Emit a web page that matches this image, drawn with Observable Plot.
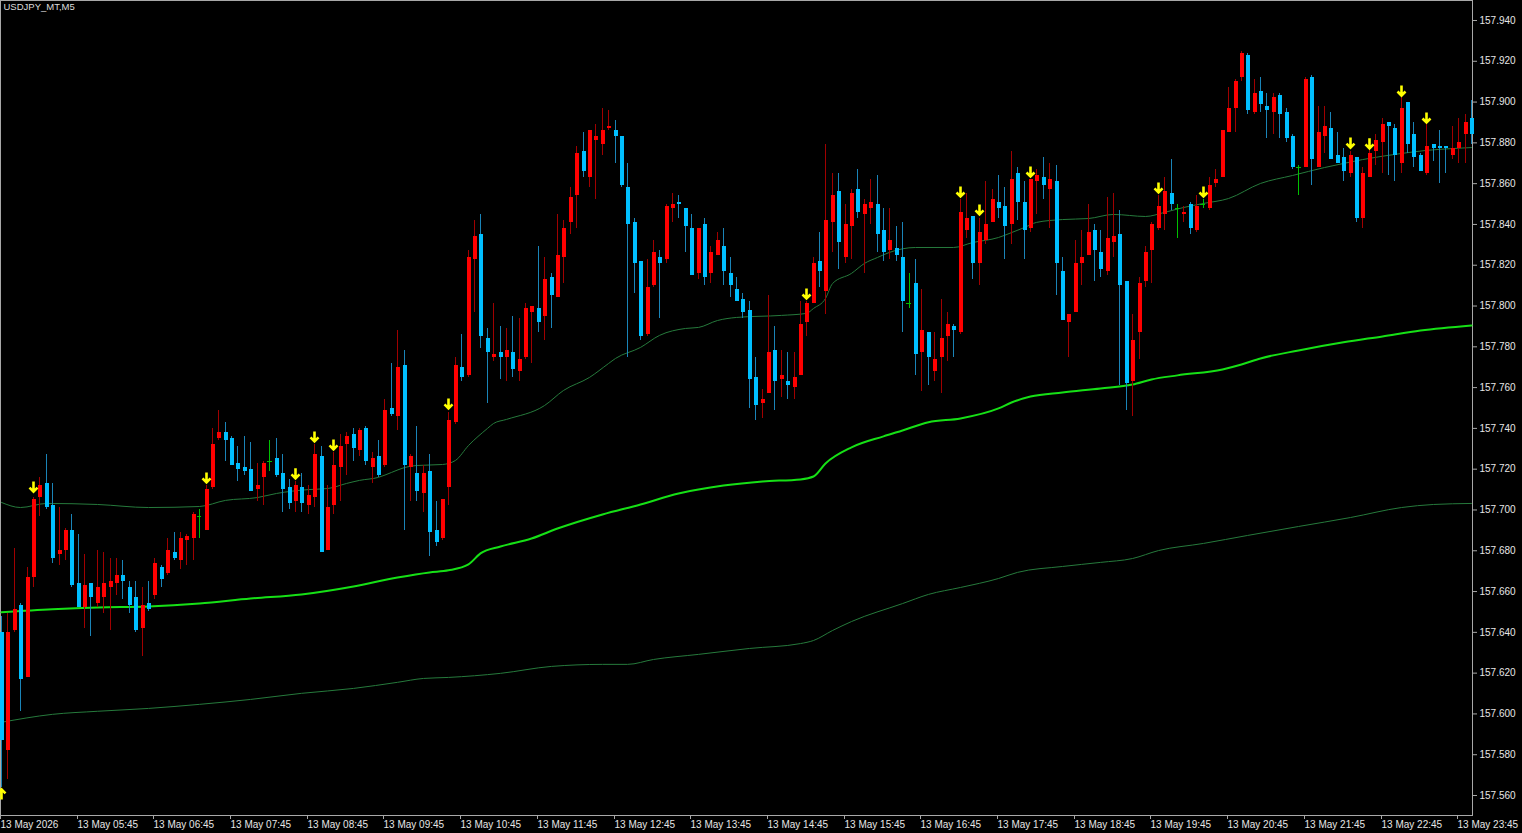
<!DOCTYPE html>
<html><head><meta charset="utf-8">
<script src="https://cdn.jsdelivr.net/npm/d3@7"></script>
<script src="https://cdn.jsdelivr.net/npm/@observablehq/plot@0.6"></script>
<style>html,body{margin:0;padding:0;background:#000;overflow:hidden}</style>
</head><body><div id="chart"></div>
<script>
const symbolTitle = "USDJPY_MT,M5";

const open = [
157.640,157.582,157.641,157.653,157.618,157.667,157.706,157.713,157.702,157.678,
157.680,157.690,157.664,157.652,157.664,157.654,157.657,157.662,157.664,157.668,
157.662,157.657,157.642,157.654,157.658,157.672,157.669,157.679,157.675,157.685,
157.686,157.697,157.690,157.711,157.735,157.738,157.735,157.723,157.721,157.720,
157.710,157.716,157.724,157.725,157.718,157.711,157.704,157.711,157.702,157.706,
157.726,157.680,157.702,157.721,157.732,157.737,157.729,157.740,157.721,157.726,
157.722,157.750,157.746,157.771,157.721,157.718,157.708,157.719,157.690,157.686,
157.711,157.743,157.770,157.766,157.823,157.835,157.784,157.775,157.777,157.775,
157.777,157.768,157.775,157.797,157.799,157.795,157.814,157.804,157.824,157.841,
157.854,157.876,157.863,157.881,157.879,157.887,157.886,157.883,157.858,157.841,
157.822,157.786,157.810,157.824,157.823,157.848,157.851,157.848,157.838,157.816,
157.840,157.816,157.825,157.829,157.816,157.808,157.803,157.798,157.765,157.752,
157.757,157.778,157.764,157.763,157.760,157.766,157.792,157.801,157.822,157.807,
157.841,157.856,157.824,157.839,157.857,157.845,157.848,157.850,157.837,157.827,
157.828,157.824,157.801,157.811,157.777,157.787,157.768,157.775,157.785,157.790,
157.787,157.837,157.844,157.821,157.832,157.841,157.851,157.849,157.840,157.865,
157.851,157.838,157.861,157.863,157.857,157.861,157.817,157.792,157.797,157.821,
157.825,157.837,157.826,157.817,157.831,157.835,157.812,157.763,157.787,157.812,
157.827,157.838,157.845,157.855,157.848,157.845,157.850,157.837,157.850,157.848,
157.860,157.863,157.885,157.897,157.912,157.923,157.895,157.905,157.898,157.895,
157.903,157.895,157.883,157.868,157.868,157.912,157.868,157.883,157.887,157.874,
157.873,157.865,157.873,157.843,157.863,157.876,157.880,157.890,157.887,157.870,
157.900,157.884,157.874,157.865,157.879,157.878,157.878,157.874,157.877,157.884,
157.892];
const high = [
157.648,157.649,157.681,157.654,157.672,157.706,157.716,157.727,157.713,157.701,
157.691,157.698,157.688,157.678,157.664,157.680,157.679,157.676,157.676,157.675,
157.665,157.665,157.662,157.665,157.676,157.673,157.686,157.689,157.689,157.688,
157.699,157.700,157.712,157.740,157.749,157.743,157.736,157.731,157.736,157.733,
157.723,157.724,157.734,157.735,157.727,157.715,157.714,157.718,157.712,157.732,
157.731,157.712,157.728,157.737,157.738,157.740,157.740,157.741,157.728,157.734,
157.754,157.772,157.788,157.778,157.727,157.741,157.722,157.727,157.704,157.705,
157.748,157.775,157.786,157.827,157.842,157.845,157.789,157.801,157.790,157.789,
157.795,157.794,157.801,157.800,157.829,157.824,157.816,157.845,157.842,157.858,
157.878,157.885,157.886,157.889,157.897,157.896,157.891,157.883,157.870,157.843,
157.822,157.823,157.832,157.827,157.850,157.855,157.854,157.848,157.845,157.838,
157.843,157.829,157.836,157.838,157.824,157.814,157.806,157.802,157.775,157.759,
157.805,157.790,157.778,157.777,157.777,157.802,157.802,157.824,157.836,157.879,
157.865,157.865,157.850,157.857,157.867,157.852,157.862,157.864,157.848,157.848,
157.839,157.841,157.816,157.823,157.808,157.787,157.787,157.803,157.797,157.791,
157.852,157.855,157.844,157.843,157.861,157.857,157.864,157.858,157.876,157.868,
157.861,157.862,157.867,157.873,157.870,157.869,157.824,157.796,157.832,157.837,
157.850,157.840,157.837,157.853,157.855,157.847,157.812,157.796,157.814,157.829,
157.841,157.854,157.863,157.872,157.850,157.849,157.851,157.854,157.852,157.863,
157.867,157.886,157.907,157.911,157.925,157.924,157.911,157.912,157.904,157.904,
157.904,157.897,157.884,157.869,157.912,157.913,157.898,157.898,157.895,157.885,
157.877,157.876,157.873,157.868,157.877,157.884,157.892,157.890,157.889,157.902,
157.900,157.890,157.875,157.890,157.879,157.886,157.878,157.888,157.892,157.894,
157.901];
const low = [
157.564,157.568,157.640,157.601,157.618,157.662,157.697,157.700,157.674,157.673,
157.675,157.662,157.652,157.642,157.638,157.652,157.649,157.641,157.658,157.656,
157.649,157.640,157.628,157.650,157.656,157.662,157.668,157.675,157.671,157.673,
157.675,157.686,157.690,157.710,157.734,157.724,157.722,157.714,157.717,157.709,
157.704,157.702,157.719,157.716,157.699,157.700,157.699,157.699,157.698,157.701,
157.679,157.680,157.698,157.704,157.717,157.724,157.726,157.722,157.713,157.716,
157.721,157.746,157.739,157.690,157.704,157.704,157.699,157.677,157.682,157.685,
157.702,157.742,157.763,157.765,157.797,157.779,157.752,157.773,157.764,157.763,
157.765,157.763,157.774,157.772,157.787,157.783,157.789,157.804,157.811,157.835,
157.838,157.863,157.858,157.852,157.874,157.886,157.870,157.858,157.775,157.806,
157.783,157.785,157.809,157.794,157.821,157.841,157.843,157.826,157.815,157.813,
157.810,157.811,157.825,157.810,157.804,157.802,157.794,157.750,157.744,157.745,
157.757,157.749,157.755,157.754,157.754,157.766,157.785,157.801,157.809,157.796,
157.826,157.818,157.821,157.823,157.843,157.816,157.840,157.826,157.822,157.823,
157.822,157.787,157.799,157.766,157.758,157.761,157.763,157.757,157.773,157.775,
157.786,157.833,157.813,157.810,157.830,157.841,157.843,157.823,157.830,157.842,
157.823,157.836,157.845,157.852,157.838,157.805,157.793,157.775,157.797,157.810,
157.825,157.812,157.814,157.815,157.824,157.761,157.749,157.746,157.774,157.809,
157.811,157.837,157.837,157.847,157.833,157.841,157.835,157.836,157.848,157.847,
157.858,157.863,157.885,157.885,157.910,157.894,157.894,157.895,157.882,157.884,
157.882,157.880,157.867,157.854,157.868,157.859,157.868,157.875,157.872,157.870,
157.861,157.863,157.841,157.838,157.863,157.869,157.865,157.864,157.861,157.865,
157.875,157.868,157.866,157.864,157.871,157.860,157.865,157.872,157.870,157.870,
157.879];
const close = [
157.587,157.640,157.651,157.617,157.667,157.705,157.712,157.701,157.676,157.680,
157.690,157.663,157.652,157.663,157.657,157.662,157.664,157.665,157.668,157.665,
157.653,157.641,157.653,157.651,157.674,157.666,157.680,157.676,157.686,157.687,
157.698,157.697,157.710,157.732,157.738,157.734,157.722,157.720,157.719,157.709,
157.712,157.723,157.724,157.717,157.710,157.703,157.712,157.703,157.707,157.727,
157.679,157.701,157.722,157.731,157.736,157.730,157.739,157.724,157.725,157.717,
157.749,157.747,157.770,157.722,157.726,157.709,157.718,157.689,157.684,157.705,
157.744,157.771,157.765,157.824,157.834,157.785,157.777,157.776,157.775,157.778,
157.769,157.774,157.799,157.800,157.792,157.813,157.805,157.825,157.838,157.853,
157.875,157.866,157.886,157.883,157.886,157.888,157.883,157.859,157.840,157.821,
157.785,157.809,157.826,157.821,157.849,157.850,157.850,157.839,157.815,157.838,
157.814,157.826,157.832,157.817,157.810,157.802,157.797,157.764,157.751,157.754,
157.777,157.763,157.766,157.761,157.765,157.791,157.801,157.821,157.817,157.842,
157.854,157.831,157.840,157.855,157.846,157.850,157.851,157.835,157.826,157.832,
157.825,157.802,157.801,157.776,157.788,157.775,157.774,157.784,157.791,157.788,
157.846,157.843,157.821,157.836,157.840,157.852,157.848,157.839,157.862,157.851,
157.837,157.862,157.864,157.859,157.862,157.821,157.793,157.796,157.821,157.824,
157.836,157.827,157.818,157.833,157.834,157.810,157.762,157.783,157.811,157.826,
157.840,157.849,157.856,157.850,157.848,157.846,157.838,157.849,157.850,157.859,
157.862,157.886,157.897,157.910,157.924,157.896,157.904,157.899,157.896,157.902,
157.894,157.882,157.868,157.868,157.911,157.872,157.885,157.888,157.872,157.870,
157.866,157.874,157.843,157.865,157.875,157.881,157.889,157.888,157.874,157.897,
157.879,157.873,157.866,157.878,157.877,157.877,157.877,157.877,157.880,157.890,
157.884];

const timeTickBars = [0,12,24,36,48,60,72,84,96,108,120,132,144,156,168,180,192,204,216,228];
const timeTickLabels = ["13 May 2026","13 May 05:45","13 May 06:45","13 May 07:45","13 May 08:45",
"13 May 09:45","13 May 10:45","13 May 11:45","13 May 12:45","13 May 13:45","13 May 14:45",
"13 May 15:45","13 May 16:45","13 May 17:45","13 May 18:45","13 May 19:45","13 May 20:45",
"13 May 21:45","13 May 22:45","13 May 23:45"];
const priceTicks = [157.56,157.58,157.60,157.62,157.64,157.66,157.68,157.70,157.72,157.74,
157.76,157.78,157.80,157.82,157.84,157.86,157.88,157.90,157.92,157.94];

const sellSignalBars = [5,32,46,49,52,70,126,150,153,161,181,188,211,214,219,223];
const sellSignalPrice = [157.709,157.7135,157.7155,157.7336,157.7297,157.7498,157.8037,157.8537,
157.8449,157.8635,157.8557,157.8537,157.8777,157.8773,157.9032,157.890];
const buySignalBars = [0];
const buySignalPrice = [157.563];

const maFastBars = [0,3,7,15,23,31,35,40,43,48,51,54,56,59,61,63,65,69,71,73,76,77,79,85,88,92,95,96,100,103,107,109,112,115,122,126,127,129,130,133,135,137,139,143,149,152,156,158,160,162,166,170,174,179,182,185,188,192,197,202,207,210,213,219,223,227,230];
const maFastVals = [157.7037,157.7012,157.7032,157.7027,157.7012,157.7017,157.7047,157.7061,157.7081,157.7100,157.7105,157.7130,157.7145,157.7160,157.7184,157.7208,157.7218,157.7223,157.7243,157.7316,157.7400,157.7424,157.7444,157.7512,157.7586,157.7650,157.7718,157.7743,157.7797,157.7856,157.7890,157.7895,157.7929,157.7944,157.7954,157.7964,157.7988,157.8037,157.8110,157.8160,157.8209,157.8238,157.8263,157.8287,157.8287,157.8311,157.8336,157.8360,157.8385,157.8410,157.8424,157.8429,157.8449,157.8439,157.8459,157.8483,157.8503,157.8527,157.8601,157.8640,157.8679,157.8699,157.8718,157.8748,157.8763,157.8772,157.8777];

const maMidBars = [0,8,15,23,31,39,47,55,62,67,70,73,75,78,83,87,94,100,106,113,119,125,127,129,133,138,141,145,150,156,158,161,166,172,177,180,184,191,194,197,203,210,216,222,230];
const maMidVals = [157.6498,157.6513,157.6522,157.6527,157.6542,157.6566,157.6586,157.6625,157.6669,157.6694,157.6704,157.6733,157.6787,157.6821,157.6860,157.6909,157.6978,157.7027,157.7081,157.7120,157.7140,157.7150,157.7164,157.7228,157.7307,157.7361,157.7390,157.7430,157.7449,157.7498,157.7527,157.7556,157.7576,157.7596,157.7615,157.7640,157.7660,157.7689,157.7713,157.7743,157.7782,157.7822,157.7851,157.7880,157.7905];

const maSlowBars = [0,8,15,23,31,39,47,55,62,66,70,78,86,94,98,102,109,117,125,127,130,133,141,145,150,156,159,166,172,177,181,188,195,203,211,219,224,230];
const maSlowVals = [157.5959,157.5998,157.6013,157.6027,157.6047,157.6071,157.6101,157.6125,157.6155,157.6174,157.6179,157.6199,157.6233,157.6243,157.6243,157.6267,157.6292,157.6321,157.6345,157.6360,157.6409,157.6453,157.6541,157.6586,157.6620,157.6664,157.6694,157.6723,157.6743,157.6762,157.6801,157.6836,157.6875,157.6919,157.6963,157.7012,157.7027,157.7032];

// ---- build tables
const bars = open.map((o, i) => ({i, open: o, high: high[i], low: low[i], close: close[i],
  dir: close[i] > o ? "up" : close[i] < o ? "down" : "doji"}));
const sells = sellSignalBars.map((b, k) => ({bar: b, price: sellSignalPrice[k]}));
const buys = buySignalBars.map((b, k) => ({bar: b, price: buySignalPrice[k]}));
const toLine = (bs, vs) => bs.map((b, k) => ({bar: b, value: vs[k]}));

const bodyColor = {up: "#ff0000", down: "#00bfff", doji: "#00c000"};
const wickColor = {up: "#a00000", down: "#1a84b8", doji: "#00c000"};

const arrowShape = {
  draw(context, l, r) {
    context.moveTo(0, 0);
    context.lineTo(0, -l);
    context.moveTo(-r, -l + r);
    context.lineTo(0, -l);
    context.lineTo(r, -l + r);
  }
};

const labelOf = new Map(timeTickBars.map((b, k) => [b, timeTickLabels[k]]));

const chart = Plot.plot({
  width: 1522, height: 833,
  marginLeft: 0, marginRight: 50, marginTop: 0, marginBottom: 18,
  style: {background: "#000", color: "#e6e6e6", fontFamily: "'Liberation Sans', Arial, sans-serif", fontSize: "10px"},
  x: {type: "linear", domain: [-0.156, 230.16], round: true, axis: null},
  y: {domain: [157.5502, 157.9498], axis: null},
  marks: [
    Plot.frame({stroke: "#a8a8a8"}),
    Plot.line(toLine(maSlowBars, maSlowVals), {x: "bar", y: "value", stroke: "#267a3c", strokeWidth: 1, curve: "monotone-x"}),
    Plot.line(toLine(maFastBars, maFastVals), {x: "bar", y: "value", stroke: "#267a3c", strokeWidth: 1, curve: "monotone-x"}),
    Plot.line(toLine(maMidBars, maMidVals), {x: "bar", y: "value", stroke: "#16e016", strokeWidth: 2, curve: "monotone-x"}),
    Plot.ruleX(bars, {x: "i", y1: "low", y2: "high", stroke: d => wickColor[d.dir], strokeWidth: 1, shapeRendering: "crispEdges"}),
    Plot.ruleX(bars.filter(d => d.dir !== "doji"), {x: "i", y1: "open", y2: "close", stroke: d => bodyColor[d.dir], strokeWidth: 4, shapeRendering: "crispEdges"}),
    Plot.ruleY(bars.filter(d => d.dir === "doji"), {x1: d => d.i - 0.35, x2: d => d.i + 0.35, y: "open", stroke: bodyColor.doji, strokeWidth: 1, shapeRendering: "crispEdges"}),
    Plot.vector(sells, {x: "bar", y: "price", length: 10, r: 4, rotate: 180, anchor: "end", shape: arrowShape, stroke: "#ffff00", strokeWidth: 2.6, strokeLinejoin: "miter", strokeLinecap: "butt"}),
    Plot.vector(buys, {x: "bar", y: "price", length: 10, r: 4, rotate: 0, anchor: "end", shape: arrowShape, stroke: "#ffff00", strokeWidth: 2.6, strokeLinejoin: "miter", strokeLinecap: "butt"}),
    Plot.axisY(priceTicks, {anchor: "right", tickSize: 4, tickPadding: 3, tickFormat: d => d.toFixed(3), stroke: "#a8a8a8", fill: "#e6e6e6", fontSize: 10}),
    Plot.axisX(timeTickBars, {anchor: "bottom", tickSize: 4, tickPadding: 1, textAnchor: "start", dx: -1, tickFormat: d => labelOf.get(d), stroke: "#a8a8a8", fill: "#e6e6e6", fontSize: 10}),
    Plot.text([symbolTitle], {frameAnchor: "top-left", dx: 3, dy: 3, text: d => d, fill: "#dcdcdc", fontSize: 9.5, textAnchor: "start", lineAnchor: "top"})
  ]
});
document.getElementById("chart").appendChild(chart);
</script>
</body></html>
